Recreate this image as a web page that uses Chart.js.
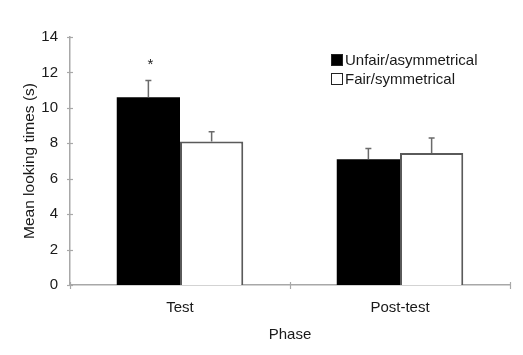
<!DOCTYPE html>
<html><head><meta charset="utf-8">
<script src="https://cdn.jsdelivr.net/npm/chart.js@4"></script>
<style>html,body{margin:0;padding:0;background:#fff}#w{width:523px;height:355px}</style>
</head><body><div id="w"><canvas id="c" width="523" height="355"></canvas></div>
<script>
const categories = ["Test", "Post-test"];
const seriesNames = ["Unfair/asymmetrical", "Fair/symmetrical"];
const unfairMeans = [10.6, 7.1];
const fairMeans = [8.1, 7.45];
const unfairErr = [0.95, 0.6];
const fairErr = [0.55, 0.85];
const yTicks = [0, 2, 4, 6, 8, 10, 12, 14];
const significance = ["*", ""];

const FONT = "Liberation Sans, Arial, sans-serif";
const AXIS = '#a8a8a8';
const errs = [unfairErr, fairErr];

const errorPlugin = {
  id: 'errs',
  afterDatasetsDraw(chart) {
    const ctx = chart.ctx, y = chart.scales.y, x = chart.scales.x;
    ctx.save();
    // crossing tick marks
    ctx.strokeStyle = AXIS;
    ctx.lineWidth = 1.2;
    const ax = x.left, ay = y.bottom;
    yTicks.forEach(v => {
      const py = Math.round(y.getPixelForValue(v)) + 0.5;
      ctx.beginPath(); ctx.moveTo(ax - 3, py); ctx.lineTo(ax + 3, py); ctx.stroke();
    });
    const nb = categories.length;
    for (let k = 0; k <= nb; k++) {
      const px = Math.round(x.left + (x.right - x.left) * k / nb) + 0.5;
      ctx.beginPath(); ctx.moveTo(px, ay - 3); ctx.lineTo(px, ay + 4); ctx.stroke();
    }
    ctx.strokeStyle = '#6a6a6a';
    ctx.lineWidth = 1.5;
    chart.data.datasets.forEach((ds, di) => {
      const meta = chart.getDatasetMeta(di);
      meta.data.forEach((bar, i) => {
        const top = y.getPixelForValue(ds.data[i] + errs[di][i]);
        const base = y.getPixelForValue(ds.data[i]);
        ctx.beginPath();
        ctx.moveTo(bar.x, base); ctx.lineTo(bar.x, top);
        ctx.moveTo(bar.x - 3, top); ctx.lineTo(bar.x + 3, top);
        ctx.stroke();
        if (di === 0 && significance[i]) {
          ctx.fillStyle = '#222';
          ctx.font = '15px ' + FONT;
          ctx.textAlign = 'center';
          ctx.textBaseline = 'middle';
          ctx.fillText(significance[i], bar.x + 2, top - 16);
        }
      });
    });
    // legend
    const lx = 331, ly = [60, 79];
    ctx.font = '15px ' + FONT;
    ctx.textAlign = 'left';
    ctx.textBaseline = 'middle';
    chart.data.datasets.forEach((ds, di) => {
      ctx.fillStyle = ds.backgroundColor;
      ctx.fillRect(lx, ly[di] - 6, 12, 12);
      ctx.strokeStyle = '#222';
      ctx.lineWidth = 1;
      ctx.strokeRect(lx + 0.5, ly[di] - 5.5, 11, 11);
      ctx.fillStyle = '#1a1a1a';
      ctx.fillText(ds.label, lx + 14, ly[di] + 1);
    });
    ctx.restore();
  }
};

new Chart(document.getElementById('c'), {
  type: 'bar',
  data: {
    labels: categories,
    datasets: [
      { label: seriesNames[0], data: unfairMeans, backgroundColor: '#000000', borderColor: '#000000', borderWidth: 0 },
      { label: seriesNames[1], data: fairMeans, backgroundColor: '#ffffff', borderColor: '#5a5a5a', borderWidth: 2 }
    ]
  },
  options: {
    responsive: false,
    animation: false,
    devicePixelRatio: 1,
    layout: { padding: { top: 37, right: 13, left: 20, bottom: 11 } },
    plugins: { legend: { display: false }, tooltip: { enabled: false } },
    datasets: { bar: { categoryPercentage: 0.575, barPercentage: 1.0 } },
    scales: {
      x: {
        afterFit(s) { s.height = 59; },
        grid: { display: false, drawTicks: false, offset: true },
        border: { display: true, color: AXIS, width: 1.5 },
        ticks: { color: '#1a1a1a', font: { family: FONT, size: 15 }, padding: 14 },
        title: { display: true, text: 'Phase', color: '#1a1a1a', font: { family: FONT, size: 15 }, padding: { top: 2, bottom: 0 } }
      },
      y: {
        min: 0, max: 14,
        afterFit(s) { s.width = 50; },
        afterBuildTicks(s) { s.ticks = yTicks.map(v => ({ value: v })); },
        grid: { display: false, drawTicks: false },
        border: { display: true, color: AXIS, width: 1.5 },
        ticks: { color: '#1a1a1a', font: { family: FONT, size: 15 }, padding: 12 },
        title: { display: true, text: 'Mean looking times (s)', color: '#1a1a1a', font: { family: FONT, size: 15.5 }, padding: { top: 0, bottom: 0 } }
      }
    }
  },
  plugins: [errorPlugin]
});
</script></body></html>
